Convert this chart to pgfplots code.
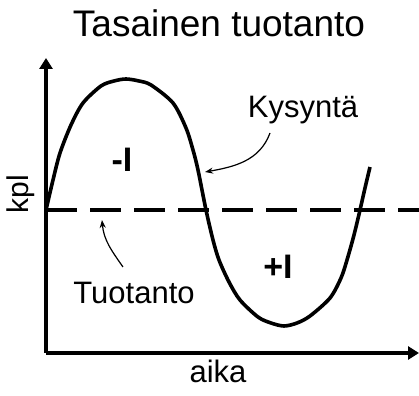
\documentclass[border=0pt]{standalone}
\usepackage{pgfplots}
\pgfplotsset{compat=1.18}
\usepackage{fontspec}
\setmainfont{Liberation Sans}
\usetikzlibrary{arrows.meta}

\begin{document}
\begin{tikzpicture}
\begin{axis}[
  scale only axis, width=373pt, height=295pt,
  xmin=0, xmax=373, ymin=0, ymax=295,
  axis lines=left,
  axis line style={line width=3.5pt, -{Triangle[width=13pt,length=11pt]}},
  xtick=\empty, ytick=\empty,
  clip=false,
]
% tuotanto (flat)
\addplot[black, line width=4pt, dash pattern=on 31pt off 13pt]
  coordinates {(0,143) (373,143)};
% kysynta
\addplot[black, line width=3.6pt, smooth, tension=0.5] coordinates {
  (0,143) (7,173) (14,200) (25,228) (37,250) (55,267) (68,272) (80,274)
  (93,272) (105,268) (127,250) (140,225) (147,203) (152,183) (160,143)
  (167,113) (173,93) (183,71) (194,53) (212,36) (225,30) (238,27) (251,30)
  (264,37) (284,55) (295,75)
  (301,93) (308,118) (314,143) (319,165) (324,186)
};

\node[anchor=base, font=\fontsize{37}{40}\selectfont] at (axis cs:173,316) {Tasainen tuotanto};
\node[anchor=base, font=\fontsize{31}{34}\selectfont] at (axis cs:172,-29) {aika};
\node[anchor=base, rotate=90, font=\fontsize{30}{33}\selectfont] at (axis cs:-17,159) {kpl};
\node[anchor=base, font=\fontsize{31}{34}\selectfont] at (axis cs:257,235) {Kysyntä};
\node[anchor=base, font=\fontsize{31}{34}\selectfont] at (axis cs:88,49) {Tuotanto};
\node[font=\fontsize{34}{36}\bfseries\selectfont] at (axis cs:76,193) {-I};
\node[font=\fontsize{34}{36}\bfseries\selectfont] at (axis cs:232,86) {+I};

\draw[line width=1.2pt, -{Stealth[length=8pt,width=6pt]}]
  (axis cs:224,220) to[out=250,in=10] (axis cs:159,181);
\draw[line width=1.2pt, -{Stealth[length=8pt,width=6pt]}]
  (axis cs:77,86) to[out=125,in=-85] (axis cs:56,133);

\coordinate (bl) at (axis cs:-46,-42);
\coordinate (tr) at (axis cs:373,353);
\end{axis}
\pgfresetboundingbox
\useasboundingbox (bl) rectangle (tr);
\end{tikzpicture}
\end{document}
